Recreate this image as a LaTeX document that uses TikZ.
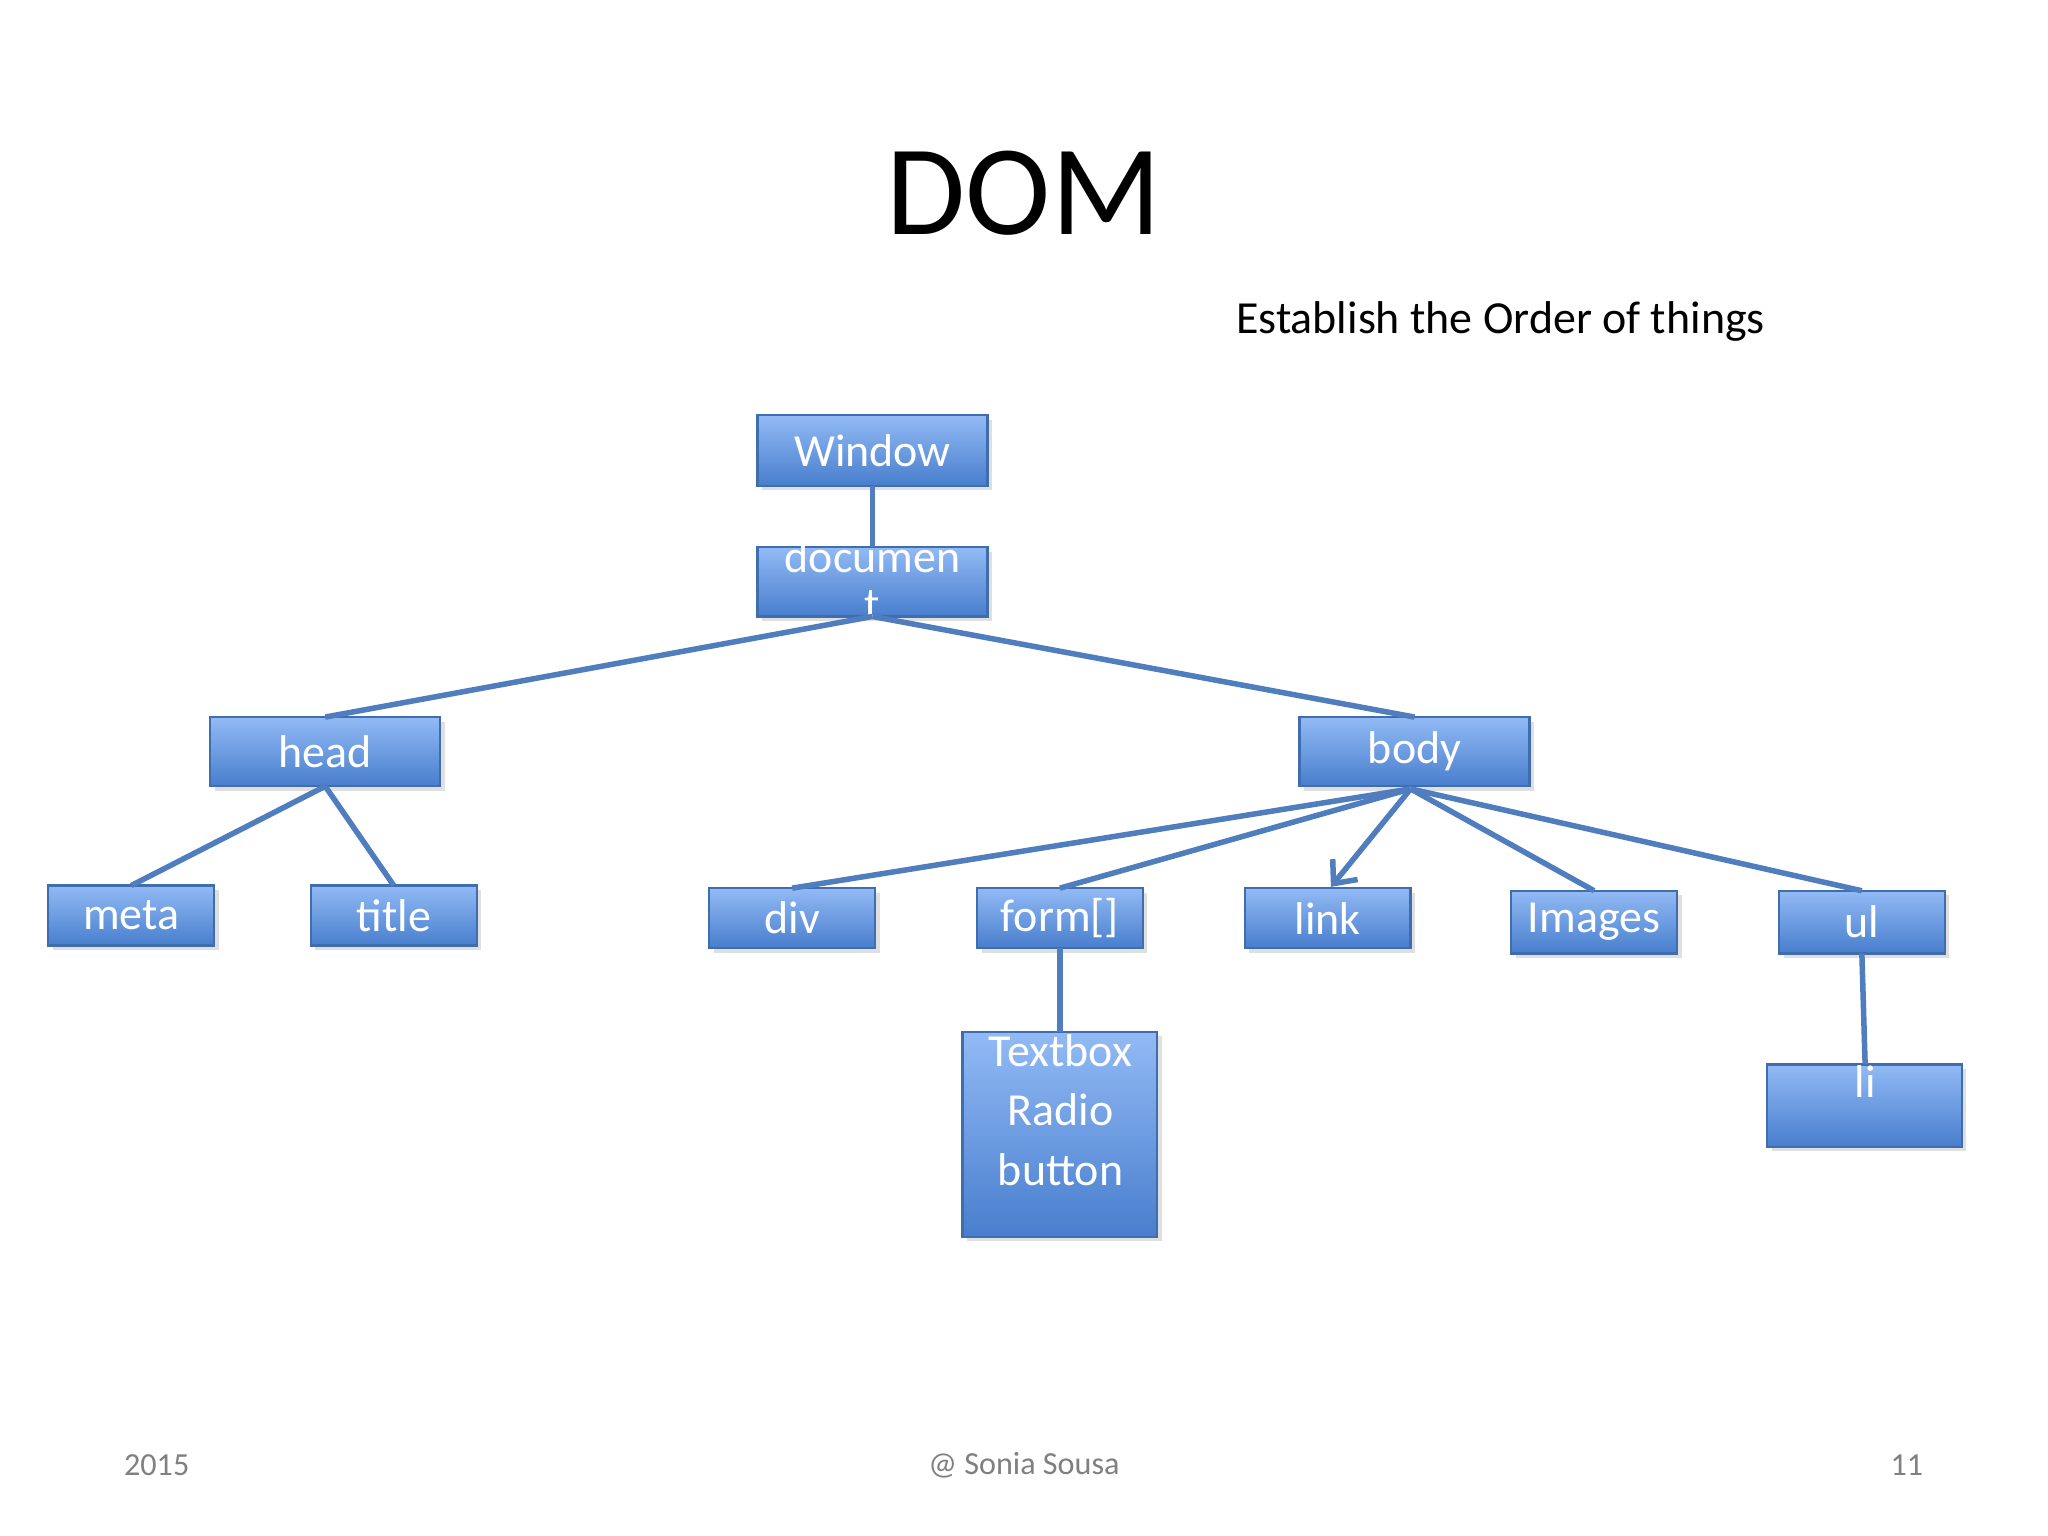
\documentclass[tikz,border=0pt]{standalone}
\usepackage{fontspec}
\setmainfont{Carlito}
\usetikzlibrary{shadows,arrows.meta}
\definecolor{ln}{HTML}{4F7DBE}
\definecolor{bd}{HTML}{3F6DAE}
\begin{document}
\begin{tikzpicture}[x=0.01cm,y=-0.01cm,
  box/.style={draw=bd,line width=0.5pt,top color={rgb,255:red,146;green,186;blue,245},bottom color={rgb,255:red,72;green,126;blue,205},
    drop shadow={shadow xshift=1pt,shadow yshift=-1pt,opacity=0.25},text=white,font=\fontsize{10}{12}\selectfont,inner sep=0pt},
  lnk/.style={draw=ln,line width=1.2pt},
  lbl/.style={text=white,font=\fontsize{10}{12}\selectfont,inner sep=0pt}]
\useasboundingbox (0,0) rectangle (1568,1176);
\fill[white] (0,0) rectangle (1568,1176);
\node (T) at (784,148) {\fontsize{28}{30}\selectfont DOM};
\node[anchor=base west] (S) at (934,255) {\fontsize{10}{12}\selectfont Establish the Order of things};
\newcommand{\bx}[5]{\path[box] (#2,#3) rectangle (#4,#5); \coordinate (#1) at ({(#2+#4)/2},{(#3+#5)/2});
  \coordinate (#1t) at ({(#2+#4)/2},#3); \coordinate (#1b) at ({(#2+#4)/2},#5);}
\bx{win}{580}{318}{756}{372}
\bx{doc}{580}{419}{756}{472}
\bx{head}{161}{549}{337}{602}
\bx{body}{995}{549}{1171}{602}
\bx{meta}{37}{678}{164}{724}
\bx{title}{238}{678}{365}{724}
\bx{div}{543}{680}{670}{726}
\bx{form}{748}{680}{875}{726}
\bx{link}{953}{680}{1080}{726}
\bx{img}{1157}{682}{1284}{730}
\bx{ul}{1362}{682}{1489}{730}
\bx{tb}{737}{790}{886}{947}
\bx{li}{1353}{815}{1502}{878}
\node[lbl] (lwin) at (win) {Window};
\node[lbl] (ldoc1) at (668,426) {documen};
\node[lbl] (ldoc2) at (668,463) {t};
\node[lbl] (lhead) at (head) {head};
\node[lbl] (lbody) at (body) {body};
\node[lbl] (lmeta) at (meta) {meta};
\node[lbl] (ltitle) at (title) {title};
\node[lbl] (ldiv) at (div) {div};
\node[lbl] (lform) at (form) {form[]};
\node[lbl] (llink) at (link) {link};
\node[lbl] (limg) at (img) {Images};
\node[lbl] (lul) at (ul) {ul};
\node[lbl,align=center] (ltb) at (812,850) {Textbox\\[1pt]Radio\\[1pt]button};
\node[lbl] (lli) at (1428,828) {li};
\coordinate (bodyb2) at (1080,604);
\coordinate (linkend) at (1019,679);
\coordinate (liend) at (1428,815);
\path[lnk] (winb) -- (doct);
\path[lnk] (docb) -- (headt);
\path[lnk] (docb) -- (bodyt);
\path[lnk] (headb) -- (metat);
\path[lnk] (headb) -- (titlet);
\path[lnk] (bodyb2) -- (divt);
\path[lnk] (bodyb2) -- (formt);
\path[lnk,-{Straight Barb[length=4pt,width=7pt]}] (bodyb2) -- (linkend);
\path[lnk] (bodyb2) -- (imgt);
\path[lnk] (bodyb2) -- (ult);
\path[lnk] (formb) -- (tbt);
\path[lnk] (ulb) -- (liend);
\node[text=gray,font=\fontsize{7}{8}\selectfont] (f1) at (120,1122) {2015};
\node[text=gray,font=\fontsize{7}{8}\selectfont] (f2) at (784,1122) {@ Sonia Sousa};
\node[text=gray,font=\fontsize{7}{8}\selectfont] (f3) at (1460,1122) {11};
\end{tikzpicture}
\end{document}
